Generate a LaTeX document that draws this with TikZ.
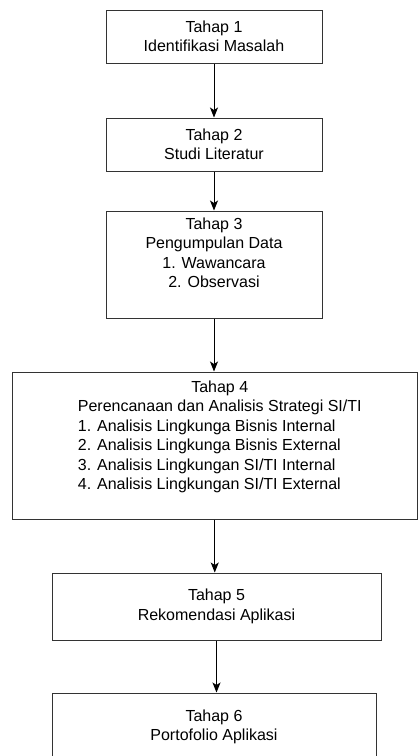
\documentclass[tikz,border=0pt]{standalone}
\usepackage{fontspec}
\setmainfont{Liberation Sans}
\usetikzlibrary{positioning,arrows.meta}

\begin{document}
\begin{tikzpicture}[x=1pt, y=-1pt,
    stage/.style={draw=black!80, line width=1pt, inner sep=0pt, align=center,
        font=\fontsize{16}{19.5}\selectfont},
    txt/.style={inner sep=0pt, font=\fontsize{16}{19.5}\selectfont},
    flow/.style={draw=black, line width=1pt, -{Stealth[length=10pt,width=8pt,inset=2.5pt]}}]
    \clip (0,0) rectangle (418,756);

    % Stages
    \node[stage, minimum width=216, minimum height=53] (t1) at (214,36.5)
        {Tahap 1\\Identifikasi Masalah};
    \node[stage, minimum width=216, minimum height=53] (t2) at (214,144.5)
        {Tahap 2\\Studi Literatur};
    \node[stage, minimum width=216, minimum height=107] (t3) at (214,264.5) {};
    \node[stage, minimum width=405.5, minimum height=147] (t4) at (214.75,445.5) {};
    \node[stage, minimum width=329, minimum height=67] (t5) at (216.5,606.5)
        {Tahap 5\\Rekomendasi Aplikasi};
    \node[stage, minimum width=324, minimum height=68] (t6) at (214,727)
        {Tahap 6\\Portofolio Aplikasi};

    % Texts of the tall stages
    \node[txt, anchor=north, align=center] (t3text) at ([yshift=-7pt]t3.north)
        {Tahap 3\\Pengumpulan Data\\1. Wawancara\\2. Observasi};
    \node[txt, anchor=north] (t4text) at ([yshift=-7pt, xshift=5pt]t4.north)
        {\begin{tabular}{@{}l@{}}
            \multicolumn{1}{c}{Tahap 4}\\
            Perencanaan dan Analisis Strategi SI/TI\\
            1. Analisis Lingkunga Bisnis Internal\\
            2. Analisis Lingkunga Bisnis External\\
            3. Analisis Lingkungan SI/TI Internal\\
            4. Analisis Lingkungan SI/TI External
        \end{tabular}};

    % Flow
    \draw[flow] (t1) -- (t2);
    \draw[flow] (t2) -- (t3);
    \draw[flow] (t3.south) -- (t3.south |- t4.north);
    \draw[flow] (t4.south) -- (t4.south |- t5.north);
    \draw[flow] (t5.south) -- (t5.south |- t6.north);
\end{tikzpicture}
\end{document}
